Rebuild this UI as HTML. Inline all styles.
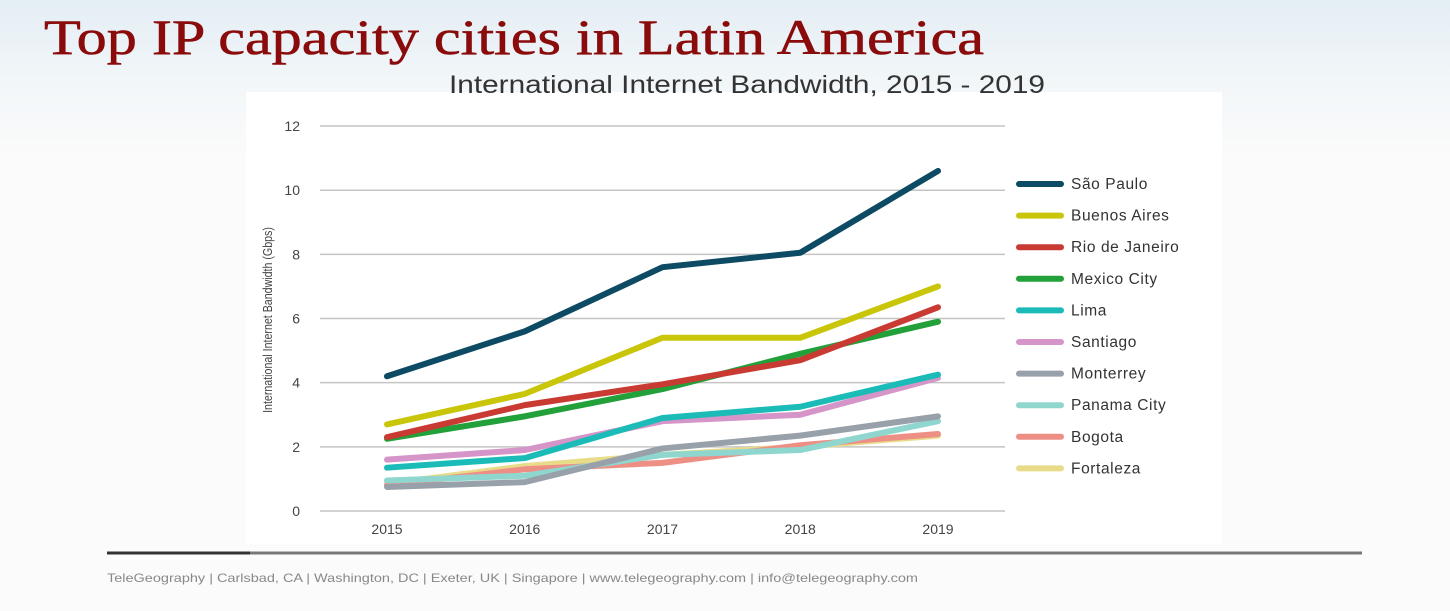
<!DOCTYPE html>
<html><head><meta charset="utf-8"><style>
html,body{margin:0;padding:0}
body{width:1450px;height:611px;overflow:hidden;background:linear-gradient(#e4eef5 0px,#f3f7f9 90px,#fbfbfb 160px,#fbfbfb 100%);font-family:"Liberation Sans",sans-serif;position:relative}
#title{position:absolute;left:44px;top:8px;font-family:"Liberation Serif",serif;font-size:50px;color:#8a0b0b;white-space:nowrap;transform-origin:0 0;-webkit-text-stroke:0.6px #8a0b0b}
#panel{position:absolute;left:246px;top:92px;width:976px;height:452px;background:#fff}
svg{position:absolute;left:0;top:0}
#footer{position:absolute;left:107px;top:571px;font-size:12px;color:#888;white-space:nowrap;transform-origin:0 0}
</style></head><body>
<div id="title">Top IP capacity cities in Latin America</div>
<div id="panel"></div>
<svg id="chart" width="1450" height="611"></svg>
<div id="footer">TeleGeography | Carlsbad, CA | Washington, DC | Exeter, UK | Singapore | www.telegeography.com | info@telegeography.com</div>
<script>
const years=["2015","2016","2017","2018","2019"];
const yTicks=[0,2,4,6,8,10,12];
const cities=["São Paulo","Buenos Aires","Rio de Janeiro","Mexico City","Lima","Santiago","Monterrey","Panama City","Bogota","Fortaleza"];
const colors=["#0d4a64","#c9c60a","#c93a33","#22a03a","#1bbcb8","#d595c8","#98a1aa","#8fd6cf","#ee8f86","#e8dc8a"];
const saoPaulo=[4.2,5.6,7.6,8.05,10.6];
const buenosAires=[2.7,3.65,5.4,5.4,7.0];
const rio=[2.3,3.3,3.95,4.7,6.35];
const mexico=[2.25,2.95,3.8,4.9,5.9];
const lima=[1.35,1.65,2.9,3.25,4.25];
const santiago=[1.6,1.9,2.8,3.0,4.15];
const monterrey=[0.75,0.9,1.95,2.35,2.95];
const panama=[0.95,1.1,1.75,1.9,2.8];
const bogota=[0.8,1.3,1.5,2.05,2.4];
const fortaleza=[0.85,1.4,1.75,2.0,2.35];
const series=[saoPaulo,buenosAires,rio,mexico,lima,santiago,monterrey,panama,bogota,fortaleza];

function fit(id,w){const e=document.getElementById(id);const s=w/e.getBoundingClientRect().width;e.style.transform='scaleX('+s+')';}
fit('title',940);
fit('footer',811);

const NS="http://www.w3.org/2000/svg";
const svg=document.getElementById('chart');
const X=i=>387+i*137.75;
const Y=v=>511-v*32.08;
function mk(t,a){const e=document.createElementNS(NS,t);for(const k in a)e.setAttribute(k,a[k]);svg.appendChild(e);return e;}

const st=mk('text',{x:449,y:93,'font-size':25,fill:'#333',textLength:596,lengthAdjust:'spacingAndGlyphs'});
st.textContent="International Internet Bandwidth, 2015 - 2019";



yTicks.forEach(v=>{
  const l=mk('line',{x1:320,x2:1005,y1:Y(v),y2:Y(v),stroke:'#c4c4c4','stroke-width':1.5});
  
  
  const t=mk('text',{x:300,y:Y(v)+5,'text-anchor':'end','font-size':14,fill:'#444'});
  t.textContent=v;
  
  
});
years.forEach((y,i)=>{
  const t=mk('text',{x:X(i),y:534,'text-anchor':'middle','font-size':14,fill:'#444'});
  t.textContent=y;
  
  
});
const yt=mk('text',{x:0,y:0,'text-anchor':'middle','font-size':13,fill:'#444',transform:'translate(272,320) rotate(-90) scale(0.82,1)'});
yt.textContent="International Internet Bandwidth (Gbps)";



for(let s=series.length-1;s>=0;s--){
  const pts=series[s].map((v,i)=>X(i)+','+Y(v)).join(' ');
  const p=mk('polyline',{points:pts,fill:'none',stroke:colors[s],'stroke-width':6,'stroke-linecap':'round','stroke-linejoin':'round'});
  
  
}
cities.forEach((c,i)=>{
  const y=184+i*31.6;
  const l=mk('line',{x1:1019,x2:1061,y1:y,y2:y,stroke:colors[i],'stroke-width':6,'stroke-linecap':'round'});
  
  
  const t=mk('text',{x:1071,y:y+5,'font-size':15.5,fill:'#333','letter-spacing':0.6});
  t.textContent=c;
  
  
});
const f1=mk('line',{x1:107,x2:1362,y1:553,y2:553,stroke:'#777','stroke-width':3});


const f2=mk('line',{x1:107,x2:250,y1:553,y2:553,stroke:'#333','stroke-width':3});


</script>
</body></html>
